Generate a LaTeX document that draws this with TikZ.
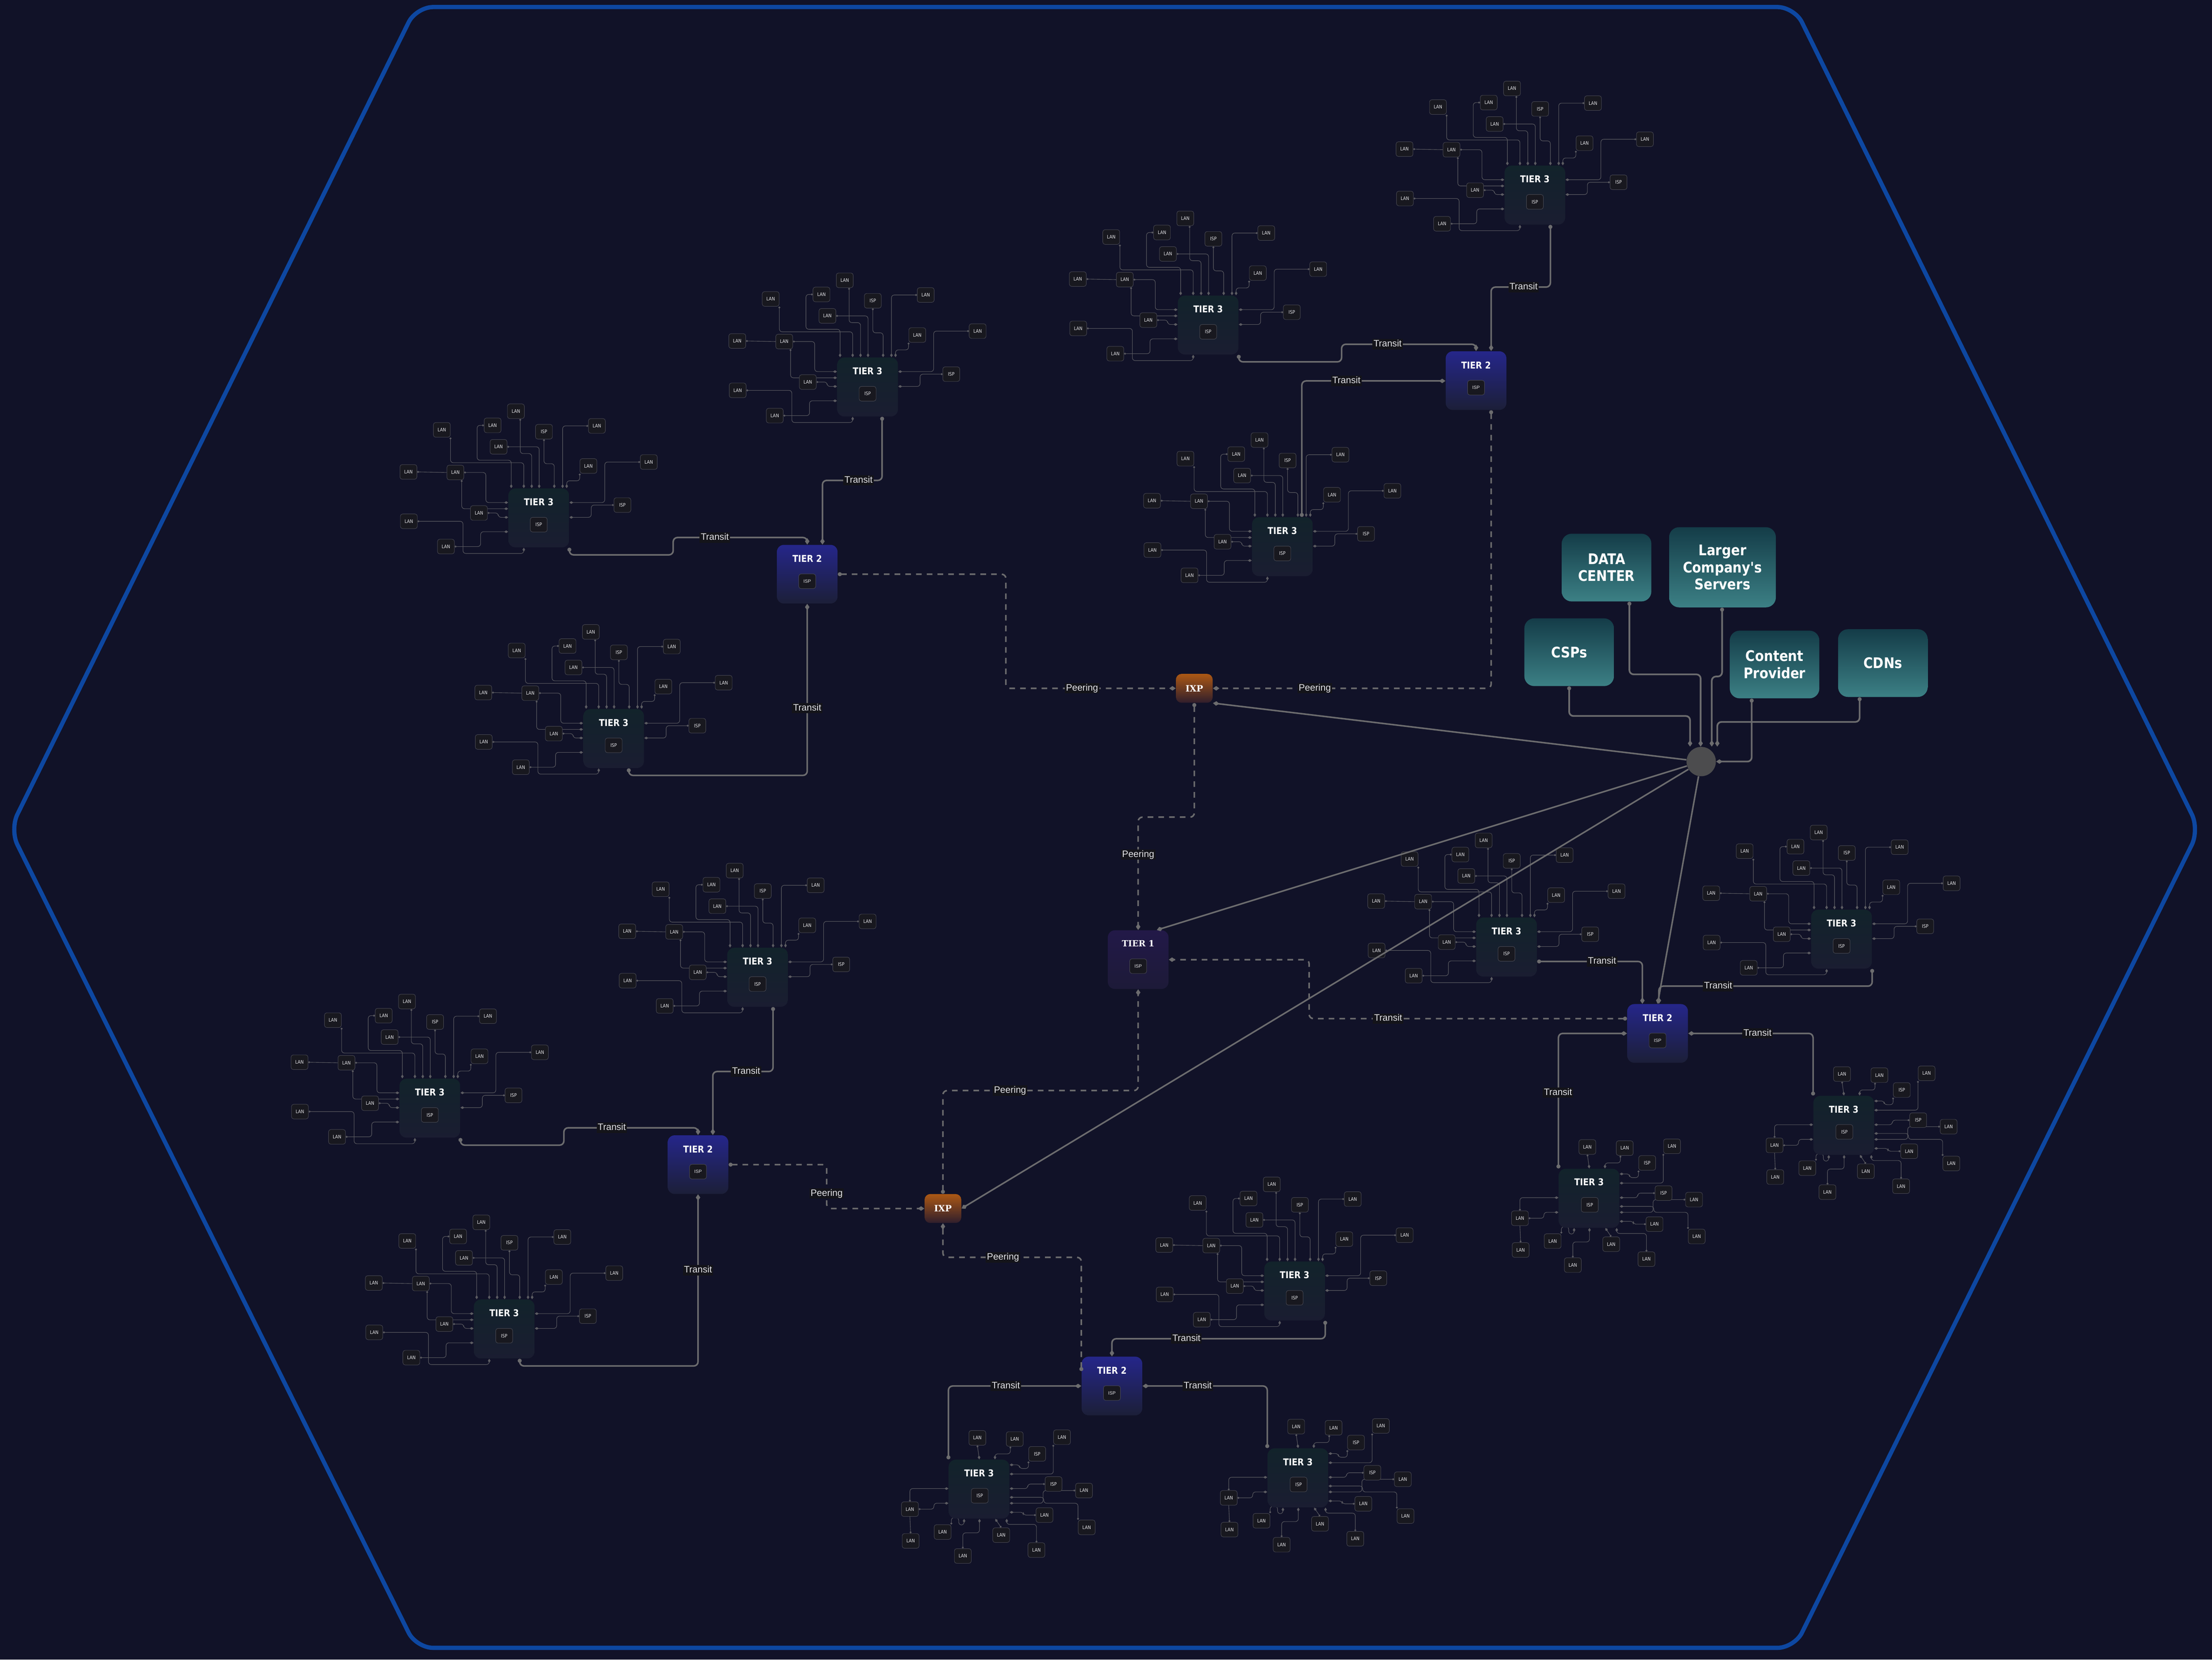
\documentclass[tikz,border=0pt]{standalone}
\usepackage{fontspec}
\setmainfont{Liberation Sans}
\newfontfamily\condfont{DejaVu Sans}[FakeStretch=0.88]
\newfontfamily\slabfont{DejaVu Serif}
\usetikzlibrary{arrows.meta, positioning, shapes.geometric}

\definecolor{bgnavy}{RGB}{17,18,40}
\definecolor{hexblue}{RGB}{13,71,161}
\definecolor{linkgray}{RGB}{108,108,110}
\definecolor{langray}{RGB}{92,92,98}
\definecolor{lanfill}{RGB}{24,24,31}
\definecolor{lanedge}{RGB}{72,72,82}
\definecolor{lantext}{RGB}{226,226,230}
\definecolor{tthreetop}{RGB}{18,35,43}
\definecolor{tthreebot}{RGB}{26,29,49}
\definecolor{ttwotop}{RGB}{37,38,138}
\definecolor{ttwobot}{RGB}{28,31,56}
\definecolor{tonetop}{RGB}{34,25,72}
\definecolor{tonebot}{RGB}{29,26,56}
\definecolor{ixptop}{RGB}{172,88,20}
\definecolor{ixpbot}{RGB}{48,30,44}
\definecolor{provtop}{RGB}{20,60,72}
\definecolor{provbot}{RGB}{60,128,133}
\definecolor{hubgray}{RGB}{76,76,78}
\definecolor{tagfill}{RGB}{20,20,26}

\pgfdeclarelayer{bg}
\pgfdeclarelayer{links}
\pgfsetlayers{bg,links,main}

\newcommand{\tiertwo}[3]{%
  \node (#1) [ttwo] at (#2,#3) {};
  \node (#1_lbl) [tierlbl] at ([yshift=11pt]#1.center) {TIER 2};
  \node (#1_isp) [ispsm] at ([yshift=-5pt]#1.center) {ISP};}

\newcommand{\clusterA}[3]{%
  \begin{scope}[shift={(#2,#3)}]
    \node (#1_box) [tthree] at (0,11.3) {};
    \node (#1_lbl) [tierlbl] at (0,0) {TIER 3};
    \node (#1_isp) [lan] at (0,16.1) {ISP};
    \node (#1_l1) [lan] at (-16.2,-64.3) {LAN};
    \node (#1_l2) [lan] at (-32.7,-54.3) {LAN};
    \node (#1_l3) [lan] at (-68.7,-51.1) {LAN};
    \node (#1_i4) [lan] at (3.7,-49.8) {ISP};
    \node (#1_l5) [lan] at (41.2,-53.9) {LAN};
    \node (#1_l6) [lan] at (-28.5,-39.1) {LAN};
    \node (#1_l7) [lan] at (35.2,-25.5) {LAN};
    \node (#1_l8) [lan] at (78.0,-28.3) {LAN};
    \node (#1_l9) [lan] at (-92.4,-21.3) {LAN};
    \node (#1_l10) [lan] at (-59.1,-20.9) {LAN};
    \node (#1_i11) [lan] at (59.3,2.2) {ISP};
    \node (#1_l12) [lan] at (-42.4,7.8) {LAN};
    \node (#1_l13) [lan] at (-92.1,13.7) {LAN};
    \node (#1_l14) [lan] at (-65.8,31.6) {LAN};
    \begin{pgfonlayer}{links}
      \draw[lanlk] (#1_l1.-60) |- (-5,-34.3) -- (#1_box.north -| -5,0);
      \draw[lanlk] (#1_l2.west) -| (-43.7,-29.6) -| (#1_box.north -| -19.5,0);
      \draw[lanlk] (#1_l3.south east) |- (-10.6,-27.8) -- (#1_box.north -| -10.6,0);
      \draw[lanlk] (#1_i4.south) |- (11,-27.1) -- (#1_box.north -| 11,0);
      \draw[lanlk] (#1_l5.west) -| (#1_box.north -| 16.9,0);
      \draw[lanlk] (#1_l6.east) -| (#1_box.north -| 0.3,0);
      \draw[lanlk] (#1_l7.south west) |- (19.8,-15) -- (#1_box.north -| 19.8,0);
      \draw[lanlk] (#1_l8.west) -| (46.8,0.4) -- (#1_box.east |- 0,0.4);
      \draw[lanlk, arrows={Circle[length=1.4pt]-}] (#1_l9.east) -- (#1_l10.west);
      \draw[lanlk] (#1_l10.east) -| (-37.5,0.4) -- (#1_box.west |- 0,0.4);
      \draw[lanlk] (#1_l10.-50) |- (#1_box.west |- 0,4.8);
      \draw[lanlk] (#1_l12.east) -| (-28.7,10.9) -- (#1_box.west |- 0,10.9);
      \draw[lanlk] (#1_l13.east) -| (-53.7,36.5) -| (#1_box.south -| -10.6,0);
      \draw[lanlk] (#1_l14.east) -| (-41.2,21.1) -- (#1_box.west |- 0,21.1);
      \draw[lanlk] (#1_i11.west) -| (37.2,10.9) -- (#1_box.east |- 0,10.9);
    \end{pgfonlayer}
  \end{scope}}

\newcommand{\clusterB}[3]{%
  \begin{scope}[shift={(#2,#3)}]
    \node (#1_box) [tthree] at (0,11.3) {};
    \node (#1_lbl) [tierlbl] at (0,0) {TIER 3};
    \node (#1_isp) [lan] at (0.5,16) {ISP};
    \node (#1_l1) [lan] at (-1.2,-25.0) {LAN};
    \node (#1_l2) [lan] at (25.3,-24.2) {LAN};
    \node (#1_l3) [lan] at (58.8,-25.5) {LAN};
    \node (#1_i4) [lan] at (41.2,-13.7) {ISP};
    \node (#1_i5) [lan] at (52.8,7.7) {ISP};
    \node (#1_l6) [lan] at (74.4,12.3) {LAN};
    \node (#1_l7) [lan] at (-49.0,25.5) {LAN};
    \node (#1_l8) [lan] at (46.4,29.7) {LAN};
    \node (#1_l9) [lan] at (76.3,38.4) {LAN};
    \node (#1_l10) [lan] at (-25.8,41.7) {LAN};
    \node (#1_l11) [lan] at (-48.5,48.0) {LAN};
    \node (#1_l12) [lan] at (15.7,43.9) {LAN};
    \node (#1_l13) [lan] at (-11.5,58.7) {LAN};
    \node (#1_l14) [lan] at (40.7,54.5) {LAN};
    \begin{pgfonlayer}{links}
      \draw[lanlk] (#1_l1.south) -- (#1_box.north -| 0.2,0);
      \draw[lanlk] (#1_l2.-120) |- (11.3,-13.7) -- (#1_box.north -| 11.3,0);
      \draw[lanlk] (#1_l3.south west) |- (#1_box.east |- 0,0.6);
      \draw[lanlk] (#1_i4.south west) |- (28.7,-3.3) |- (#1_box.east |- 0,-5.9);
      \draw[lanlk] (#1_i5.west) -| (34.5,10.9) -- (#1_box.east |- 0,10.9);
      \draw[lanlk] (#1_l6.west) -| (45.4,21.3) -- (#1_box.east |- 0,21.3);
      \draw[lanlk] (#1_l9.north west) |- (45.9,21.3) |- (#1_box.east |- 0,17.1);
      \draw[lanlk] (#1_l8.west) -| (31.4,27.7) -- (#1_box.east |- 0,27.7);
      \draw[lanlk] (#1_l14.north) |- (19.6,36.3) -- (#1_box.south -| 19.6,0);
      \draw[lanlk] (#1_l12.north) -- (#1_box.south -| 11.5,0);
      \draw[lanlk] (#1_l13.north) |- (0.3,42.3) -- (#1_box.south -| 0.3,0);
      \draw[lanlk] (#1_l10.north east) |- (-14.4,31.5) |- (-10.6,36.7) -- (#1_box.south -| -10.6,0);
      \draw[lanlk] (#1_l7.north) |- (#1_box.west |- 0,10.9);
      \draw[lanlk] (#1_l7.east) -| (-32,21.3) -- (#1_box.west |- 0,21.3);
      \draw[lanlk, arrows={Circle[length=1.4pt]-}] (#1_l11.north) -- (#1_l7.south);
    \end{pgfonlayer}
  \end{scope}}

\begin{document}
\begin{tikzpicture}[x=1pt, y=-1pt,
        tthree/.style = {
            rounded corners=5pt,
            minimum width=43pt,
            minimum height=41.8pt,
            inner sep=0pt,
            top color=tthreetop,
            bottom color=tthreebot
        },
        ttwo/.style = {tthree, minimum height=41.6pt, top color=ttwotop, bottom color=ttwobot},
        tone/.style = {tthree, minimum height=41.6pt, top color=tonetop, bottom color=tonebot},
        tierlbl/.style = {font=\condfont\bfseries\fontsize{6.7}{8}\selectfont, text=white, inner sep=0pt},
        lan/.style = {
            draw=lanedge,
            line width=0.3pt,
            fill=lanfill,
            rounded corners=1.6pt,
            minimum width=12pt,
            minimum height=10.4pt,
            inner sep=0pt,
            font=\condfont\fontsize{3.4}{4}\selectfont,
            text=lantext
        },
        ispsm/.style = {lan, font=\fontsize{3.3}{4}\selectfont},
        ixp/.style = {
            rounded corners=4pt,
            minimum width=26pt,
            minimum height=20.5pt,
            inner sep=0pt,
            top color=ixptop,
            bottom color=ixpbot,
            font=\slabfont\bfseries\fontsize{6.2}{7}\selectfont,
            text=white
        },
        provider/.style = {
            rounded corners=7pt,
            minimum width=63.5pt,
            minimum height=48pt,
            inner sep=0pt,
            top color=provtop,
            bottom color=provbot,
            align=center,
            font=\condfont\bfseries\fontsize{10.4}{12}\selectfont,
            text=white
        },
        hubdot/.style = {circle, fill=hubgray, minimum size=20.8pt, inner sep=0pt},
        lanlk/.style = {draw=langray, line width=0.35pt, rounded corners=2pt,
            arrows={Circle[length=1.4pt]-Diamond[length=2.8pt,width=1.9pt]}},
        transit/.style = {draw=linkgray, line width=1.1pt, rounded corners=3pt,
            arrows={Circle[length=2.8pt]-Diamond[length=4.6pt,width=3.2pt]}},
        provlk/.style = {transit, line width=1.2pt},
        peering/.style = {transit, dash pattern=on 4pt off 3.6pt},
        hublk/.style = {draw=linkgray, line width=1.1pt, arrows={-Diamond[length=4.6pt,width=3.2pt]}},
        tag/.style = {fill=tagfill, text=lantext, inner xsep=0.8pt, inner ysep=0.6pt,
            font=\fontsize{6.6}{7}\selectfont, text height=4.8pt, text depth=1.3pt},
        hexline/.style = {draw=hexblue, line width=3pt, rounded corners=12pt}
        ]

        \useasboundingbox (0,0) rectangle (1568,1176.4);
        \begin{pgfonlayer}{bg}
            \fill[bgnavy] (0,0) rectangle (1568,1176.4);
            \draw[hexline] (295,5) -- (1272,5) -- (1559,588) -- (1272,1168) -- (295,1168) -- (7,588) -- cycle;
        \end{pgfonlayer}

        \tiertwo{t2a}{1046.3}{269.8}
        \tiertwo{t2b}{572.2}{407}
        \tiertwo{t2c}{1175}{732.5}
        \tiertwo{t2d}{494.8}{825.5}
        \tiertwo{t2e}{788.2}{982.4}

        \node (t1) [tone] at (806.8,680.2) {};
        \node (t1_lbl) [tierlbl, font=\slabfont\bfseries\fontsize{6}{7}\selectfont] at ([yshift=11.5pt]t1.center) {TIER 1};
        \node (t1_isp) [ispsm] at ([yshift=-4.6pt]t1.center) {ISP};

        \node (ixp_n) [ixp] at (846.6,487.9) {IXP};
        \node (ixp_s) [ixp] at (668.4,856.6) {IXP};
        \node (hub) [hubdot] at (1205.9,539.8) {};

        \node (dc) [provider] at (1138.8,402.3) {DATA\\CENTER};
        \node (lcs) [provider, minimum width=75.6pt, minimum height=56.8pt] at (1221,402.1) {Larger\\Company's\\Servers};
        \node (csp) [provider] at (1112.3,462.3) {CSPs};
        \node (cp) [provider] at (1257.9,471) {Content\\Provider};
        \node (cdn) [provider] at (1334.7,470) {CDNs};

        \foreach \n/\x/\y in {c1/1088/127, c2/856.4/219.1, c3/909/376.2, c4/615/263,
                c5/381.9/355.8, c6/435/512.2, c7/537/681.4, c8/304.7/774.2, c9/357.4/930.7,
                c10/917.7/903.8, c13/1067.9/660, c14/1305.4/654.4}
            {\clusterA{\n}{\x}{\y}}
        \foreach \n/\x/\y in {c11/694/1044.2, c12/920/1036.2, c15/1126.4/838, c16/1306.9/786.3}
            {\clusterB{\n}{\x}{\y}}

        \draw[transit] (c1_box.south -| 1099,0) |- (1057,203.5) -- (t2a.north -| 1057,0);
        \draw[transit] (c2_box.south east) |- (951,256.5) |- (1046.3,244) -- (t2a.north);
        \draw[transit] (c3_box.north -| 922.8,0) |- (t2a.west |- 0,270);
        \draw[transit] (c4_box.south -| 625.3,0) |- (583,340.5) -- (t2b.north -| 583,0);
        \draw[transit] (c5_box.south east) |- (477.2,393.3) |- (572.2,381) -- (t2b.north);
        \draw[transit] (c6_box.south -| 445.7,0) |- (572.2,549.6) -- (t2b.south);
        \draw[transit] (c7_box.south -| 548,0) |- (505.3,759.5) -- (t2d.north -| 505.3,0);
        \draw[transit] (c8_box.south east) |- (399.7,811.7) |- (494.8,799.4) -- (t2d.north);
        \draw[transit] (c9_box.south -| 368.4,0) |- (494.8,968.2) -- (t2d.south);
        \draw[transit] (c10_box.south east) |- (788.2,948.9) -- (t2e.north);
        \draw[transit] (c11_box.north west) |- (t2e.west);
        \draw[transit] (c12_box.north west) |- (t2e.east);
        \draw[transit] (c13_box.east |- 0,681.5) -| (t2c.north -| 1164.2,0);
        \draw[transit] (c14_box.south east) |- (1175.9,699) -- (t2c.north -| 1175.9,0);
        \draw[transit] (c15_box.north west) |- (t2c.west);
        \draw[transit] (c16_box.north west) |- (t2c.east);

        \draw[hublk] (hub) -- (ixp_n.south east);
        \draw[hublk] (hub) -- (t1.north -| 820,0);
        \draw[hublk] (hub) -- (ixp_s.east);
        \draw[hublk] (hub) -- (t2c.north -| 1175,0);

        \draw[provlk] (dc.south -| 1155,0) |- (1205.5,478) -- (hub.north -| 1205.5,0);
        \draw[provlk] (lcs.south -| 1220.7,0) |- (1213.4,479.5) -- (hub.north -| 1213.4,0);
        \draw[provlk] (csp.south) |- (1198,507.5) -- (hub.north -| 1198,0);
        \draw[provlk] (cdn.south -| 1318.2,0) |- (1217.3,511.7) -- (hub.north -| 1217.3,0);
        \draw[provlk] (cp.south -| 1241.7,0) |- (hub.east);

        \draw[peering] (t2b.east) -| (713,487.9) -- (ixp_n.west);
        \draw[peering] (t2a.south -| 1057,0) |- (ixp_n.east);
        \draw[peering] (ixp_n.south) |- (806.8,579.2) -- (t1.north);
        \draw[peering] (t2c.west |- 0,722) -| (928,680.2) -- (t1.east);
        \draw[peering] (ixp_s.north) |- (806.8,773) -- (t1.south);
        \draw[peering] (t2d.east) -| (586,856.6) -- (ixp_s.west);
        \draw[peering] (t2e.west |- 0,971.8) |- (668.4,891.2) -- (ixp_s.south);

        \node (tr1) [tag] at (1080,203.5) {Transit};
        \node (tr2) [tag] at (983.6,244) {Transit};
        \node (tr3) [tag] at (954.4,270) {Transit};
        \node (tr4) [tag] at (608.6,340.5) {Transit};
        \node (tr5) [tag] at (506.7,381) {Transit};
        \node (tr6) [tag] at (572.2,502) {Transit};
        \node (tr7) [tag] at (528.9,759.5) {Transit};
        \node (tr8) [tag] at (433.7,799.4) {Transit};
        \node (tr9) [tag] at (494.8,900.3) {Transit};
        \node (tr10) [tag] at (841,948.9) {Transit};
        \node (tr11) [tag] at (713,982.4) {Transit};
        \node (tr12) [tag] at (849,982.4) {Transit};
        \node (tr13) [tag] at (1135.6,681.5) {Transit};
        \node (tr14) [tag] at (1217.9,699) {Transit};
        \node (tr15) [tag] at (1104.4,774.5) {Transit};
        \node (tr16) [tag] at (1245.8,732.5) {Transit};
        \node (pe1) [tag] at (767,487.9) {Peering};
        \node (pe2) [tag] at (932,487.9) {Peering};
        \node (pe3) [tag] at (806.8,605.8) {Peering};
        \node (pe4) [tag] at (984,722) {Transit};
        \node (pe5) [tag] at (716,773) {Peering};
        \node (pe6) [tag] at (586,846) {Peering};
        \node (pe7) [tag] at (711,891.2) {Peering};

    \end{tikzpicture}
\end{document}
